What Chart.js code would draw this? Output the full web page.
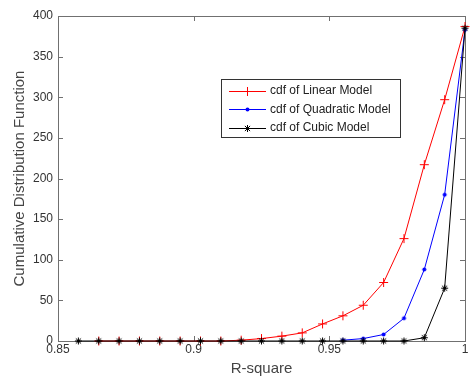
<!DOCTYPE html>
<html>
<head>
<meta charset="utf-8">
<script src="https://cdn.jsdelivr.net/npm/chart.js@4/dist/chart.umd.min.js"></script>
<style>
  html, body { margin: 0; padding: 0; background: #fff; }
  canvas { display: block; }
</style>
</head>
<body>
<canvas id="cdf-chart" width="471" height="377"></canvas>
<script>
// R-square grid shared by the three curves
const rSquare = [0.8575, 0.865, 0.8725, 0.88, 0.8875, 0.895, 0.9025, 0.91, 0.9175, 0.925,
                 0.9325, 0.94, 0.9475, 0.955, 0.9625, 0.97, 0.9775, 0.985, 0.9925, 1.0];

// cdf values (null = no point at that R-square)
const cdfLinear    = [null, 0, 0, 0, 0, 0, 0, 0, 1, 3, 6, 10, 21, 31, 44, 72, 126, 217, 297, 387];
const cdfQuadratic = [null, null, null, null, null, null, null, null, null, null,
                      null, null, null, 1, 3, 8, 28, 88, 180, 383];
const cdfCubic     = [0, 0, 0, 0, 0, 0, 0, 0, 0, 0, 0, 0, 0, 0, 0, 0, 0, 4, 65, 385];

const xTicks = [0.85, 0.9, 0.95, 1];
const xTickLabels = ['0.85', '0.9', '0.95', '1'];
const yTicks = [0, 50, 100, 150, 200, 250, 300, 350, 400];

const seriesNames = ['cdf of Linear Model', 'cdf of Quadratic Model', 'cdf of Cubic Model'];

function toPoints(values) {
    return rSquare.map((x, i) => ({ x: x, y: values[i] })).filter(p => p.y !== null);
}

const FONT = '"Liberation Sans", Arial, sans-serif';

// marker shapes, used again for the legend samples
function drawMarker(ctx, style, x, y, color) {
    ctx.save();
    ctx.strokeStyle = color;
    ctx.fillStyle = color;
    ctx.lineWidth = 1;
    ctx.beginPath();
    if (style === 'cross') {
        ctx.moveTo(x - 4.5, y); ctx.lineTo(x + 4.5, y);
        ctx.moveTo(x, y - 4.5); ctx.lineTo(x, y + 4.5);
        ctx.stroke();
    } else if (style === 'star') {
        const r = 3.5, d = 2.6;
        ctx.moveTo(x - r, y); ctx.lineTo(x + r, y);
        ctx.moveTo(x, y - r); ctx.lineTo(x, y + r);
        ctx.moveTo(x - d, y - d); ctx.lineTo(x + d, y + d);
        ctx.moveTo(x - d, y + d); ctx.lineTo(x + d, y - d);
        ctx.stroke();
    } else {
        ctx.arc(x, y, 2, 0, Math.PI * 2);
        ctx.fill();
    }
    ctx.restore();
}

const seriesStyles = [
    { color: '#ff0000', mark: 'cross' },
    { color: '#0000ff', mark: 'dot' },
    { color: '#000000', mark: 'star' }
];

// axes frame, inward ticks, tick labels, titles and legend
const matlabAxes = {
    id: 'matlabAxes',
    beforeDatasetsDraw(chart) {
        const ctx = chart.ctx;
        const a = chart.chartArea;
        const xs = chart.scales.x, ys = chart.scales.y;
        ctx.save();
        ctx.strokeStyle = '#707070';
        ctx.lineWidth = 1;
        ctx.strokeRect(a.left + 0.5, a.top + 0.5, a.right - a.left, a.bottom - a.top);
        ctx.beginPath();
        xTicks.forEach(v => {
            const px = Math.round(xs.getPixelForValue(v)) + 0.5;
            ctx.moveTo(px, a.bottom); ctx.lineTo(px, a.bottom - 5);
            ctx.moveTo(px, a.top); ctx.lineTo(px, a.top + 5);
        });
        yTicks.forEach(v => {
            const py = Math.round(ys.getPixelForValue(v)) + 0.5;
            ctx.moveTo(a.left, py); ctx.lineTo(a.left + 5, py);
            ctx.moveTo(a.right, py); ctx.lineTo(a.right - 5, py);
        });
        ctx.stroke();

        ctx.fillStyle = '#333';
        ctx.font = '12px ' + FONT;
        ctx.textAlign = 'right';
        ctx.textBaseline = 'middle';
        yTicks.forEach(v => ctx.fillText(String(v), a.left - 5, ys.getPixelForValue(v)));
        ctx.textAlign = 'center';
        ctx.textBaseline = 'top';
        xTicks.forEach((v, i) => ctx.fillText(xTickLabels[i], xs.getPixelForValue(v), a.bottom + 3));

        ctx.fillStyle = '#444';
        ctx.font = '15px ' + FONT;
        ctx.fillText('R-square', (a.left + a.right) / 2, a.bottom + 20);
        ctx.translate(20, (a.top + a.bottom) / 2);
        ctx.rotate(-Math.PI / 2);
        ctx.textBaseline = 'middle';
        ctx.fillText('Cumulative Distribution Function', 0, 0);
        ctx.restore();
    },
    afterDatasetsDraw(chart) {
        const ctx = chart.ctx;
        ctx.save();
        ctx.fillStyle = '#fff';
        ctx.fillRect(221, 79, 179, 58);
        ctx.strokeStyle = '#333';
        ctx.lineWidth = 1;
        ctx.strokeRect(221.5, 79.5, 179, 58);
        ctx.font = '12px ' + FONT;
        ctx.textAlign = 'left';
        ctx.textBaseline = 'middle';
        seriesNames.forEach((name, i) => {
            const y = 91 + i * 18.3;
            const st = seriesStyles[i];
            ctx.strokeStyle = st.color;
            ctx.beginPath();
            ctx.moveTo(229, Math.round(y) + 0.5);
            ctx.lineTo(266, Math.round(y) + 0.5);
            ctx.stroke();
            drawMarker(ctx, st.mark, 247.5, Math.round(y) + 0.5, st.color);
            ctx.fillStyle = '#222';
            ctx.fillText(name, 270, y);
        });
        ctx.restore();
    }
};

// custom point styles drawn through the dataset's point elements
function markerCanvas(style, color) {
    const c = document.createElement('canvas');
    c.width = 11; c.height = 11;
    drawMarker(c.getContext('2d'), style, 5.5, 5.5, color);
    return c;
}

const datasets = [cdfLinear, cdfQuadratic, cdfCubic].map((values, i) => ({
    label: seriesNames[i],
    data: toPoints(values),
    borderColor: seriesStyles[i].color,
    backgroundColor: seriesStyles[i].color,
    borderWidth: 1,
    pointStyle: markerCanvas(seriesStyles[i].mark, seriesStyles[i].color),
    pointRadius: 5,
    tension: 0,
    clip: false,
    order: 2 - i
}));

new Chart(document.getElementById('cdf-chart').getContext('2d'), {
    type: 'line',
    data: { datasets: datasets },
    options: {
        responsive: false,
        animation: false,
        devicePixelRatio: 1,
        layout: { padding: { left: 58, right: 1, top: 16, bottom: 36 } },
        scales: {
            x: { type: 'linear', min: 0.85, max: 1, display: false },
            y: { min: 0, max: 400, display: false }
        },
        plugins: {
            legend: { display: false },
            tooltip: { enabled: false }
        }
    },
    plugins: [matlabAxes]
});
</script>
</body>
</html>
